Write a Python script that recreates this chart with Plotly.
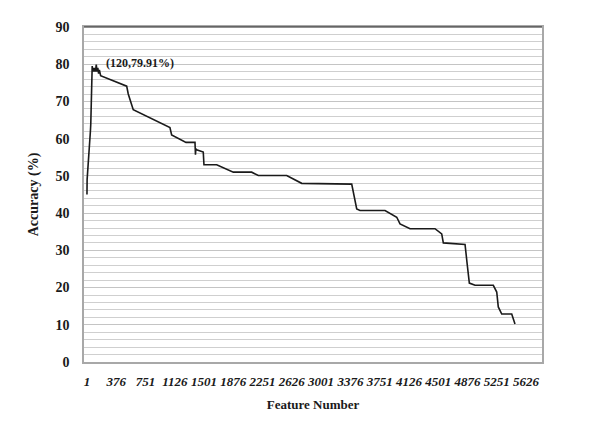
import plotly.graph_objects as go

# breakpoints of the accuracy curve
feature_no = [1, 3, 45, 50, 68, 75, 80, 90, 100, 110, 120, 130, 140, 150, 160, 176,
              510, 530, 594, 1064, 1086, 1270, 1385, 1391, 1396, 1406, 1491, 1500, 1663,
              1876, 2111, 2196, 2560, 2752, 3093, 3115, 3393, 3457, 3499, 3820, 3970,
              4012, 4140, 4460, 4546, 4567, 4845, 4874, 4900, 4973, 5207, 5251, 5271,
              5315, 5443, 5485]
accuracy = [45.0, 49.0, 62.0, 64.0, 79.5, 78.0, 79.0, 78.0, 79.0, 78.0, 79.91, 78.0, 79.0,
            77.5, 78.5, 76.9, 74.1, 72.0, 67.8, 63.0, 61.0, 59.0, 59.0, 55.7, 57.3, 57.0,
            56.4, 53.0, 53.0, 51.0, 51.0, 50.1, 50.1, 48.0, 48.0, 47.8, 47.8, 41.1, 40.7,
            40.7, 38.9, 37.1, 35.8, 35.8, 34.4, 32.0, 31.6, 26.0, 21.2, 20.6, 20.6, 18.8,
            14.8, 12.9, 12.9, 10.2]

x_ticks = [1, 376, 751, 1126, 1501, 1876, 2251, 2626, 3001, 3376, 3751, 4126, 4501,
           4876, 5251, 5626]
y_ticks = [0, 10, 20, 30, 40, 50, 60, 70, 80, 90]

best_feature = 120
best_acc = 79.91

serif = "Liberation Serif"

fig = go.Figure()
fig.add_trace(
    go.Scatter(
        x=feature_no,
        y=accuracy,
        mode="lines",
        line=dict(color="#1a1a1a", width=1.6),
        showlegend=False,
        hoverinfo="skip",
    )
)

fig.add_annotation(
    x=best_feature + 105,
    y=best_acc + 0.4,
    text="<b>(%d,%.2f%%)</b>" % (best_feature, best_acc),
    showarrow=False,
    xanchor="left",
    yanchor="middle",
    font=dict(family=serif, size=12, color="#1a1a1a"),
)

# dark top border of the plot area
fig.add_shape(
    type="line", xref="paper", yref="paper", x0=0, x1=1, y0=1, y1=1,
    line=dict(color="#222222", width=1),
)

# page body keeps its default 8px margin, so the figure is a bit smaller
fig.update_layout(
    width=581,
    height=425,
    autosize=False,
    plot_bgcolor="white",
    paper_bgcolor="white",
    margin=dict(l=76, r=47, t=19, b=71),
    font=dict(family=serif, color="#1a1a1a"),
)

# modify x-axis
fig.update_xaxes(
    range=[-37, 5831],
    tickvals=x_ticks,
    ticktext=["<b><i>%d</i></b>" % v for v in x_ticks],
    tickfont=dict(family=serif, size=13),
    tickangle=0,
    showgrid=False,
    zeroline=False,
    showline=True,
    linecolor="#a8a8a8",
    linewidth=1.5,
    mirror=True,
    ticks="",
    ticklabelstandoff=7,
    automargin=False,
    title=dict(text="<b>Feature Number</b>", font=dict(family=serif, size=13), standoff=12),
)
# modify y-axis
fig.update_yaxes(
    range=[0, 90],
    tickvals=y_ticks,
    ticktext=["<b>%d</b>" % v for v in y_ticks],
    tickfont=dict(family=serif, size=14),
    showgrid=True,
    gridcolor="#c4c4c4",
    gridwidth=1,
    minor=dict(dtick=2, showgrid=True, gridcolor="#cfcfcf", gridwidth=1),
    zeroline=False,
    showline=True,
    linecolor="#a8a8a8",
    linewidth=1.5,
    mirror=True,
    ticks="",
    ticklabelstandoff=10,
    automargin=False,
    title=dict(text="<b>Accuracy (%)</b>", font=dict(family=serif, size=14), standoff=14),
)

fig.write_html("out.html")
